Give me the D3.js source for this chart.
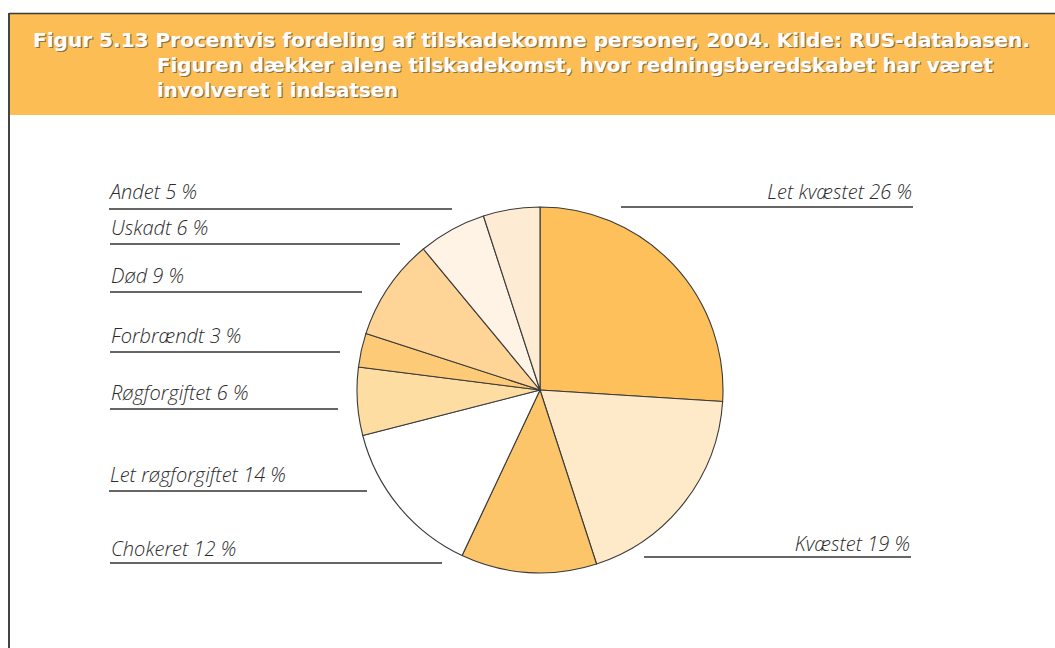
<!DOCTYPE html>
<html lang="da">
<head>
<meta charset="UTF-8">
<title>Figur 5.13</title>
<script src="https://d3js.org/d3.v7.min.js"></script>
<style>
  body { margin: 0; background: #fff; }
  svg { display: block; }
</style>
</head>
<body>
<div id="chart"></div>
<script>
// data (clockwise from 12 o'clock)
const categories = ["Let kvæstet", "Kvæstet", "Chokeret", "Let røgforgiftet",
                    "Røgforgiftet", "Forbrændt", "Død", "Uskadt", "Andet"];
const values = [26, 19, 12, 14, 6, 3, 9, 6, 5];
const sliceColors = ["#fdc05a", "#fee9c8", "#fdc56a", "#ffffff",
                     "#fedda3", "#fdcb78", "#fed597", "#fff3e6", "#feebd3"];

const titleLines = [
  "Figur 5.13 Procentvis fordeling af tilskadekomne personer, 2004. Kilde: RUS-databasen.",
  "Figuren dækker alene tilskadekomst, hvor redningsberedskabet har været",
  "involveret i indsatsen"
];

// label layout: text baseline, underline y, line x range, anchor side
const labelLayout = {
  "Andet":            {ty: 199, ly: 209, x0: 109, x1: 452, side: "left"},
  "Uskadt":           {ty: 235, ly: 244, x0: 110, x1: 400, side: "left"},
  "Død":              {ty: 283, ly: 292, x0: 110, x1: 362, side: "left"},
  "Forbrændt":        {ty: 343, ly: 352, x0: 110, x1: 340, side: "left"},
  "Røgforgiftet":     {ty: 400, ly: 409, x0: 110, x1: 338, side: "left"},
  "Let røgforgiftet": {ty: 482, ly: 491, x0: 109, x1: 367, side: "left"},
  "Chokeret":         {ty: 556, ly: 563, x0: 110, x1: 442, side: "left"},
  "Let kvæstet":      {ty: 199, ly: 207, x0: 621, x1: 913, side: "right"},
  "Kvæstet":          {ty: 551, ly: 557, x0: 644, x1: 911, side: "right"}
};

const width = 1055, height = 648;
const cx = 540, cy = 390, radius = 183;

const svg = d3.select("#chart").append("svg")
  .attr("width", width)
  .attr("height", height);

// frame + header band
svg.append("rect")
  .attr("x", 9).attr("y", 14)
  .attr("width", width).attr("height", 101)
  .attr("fill", "#fdbd55");
svg.append("line")
  .attr("x1", 9).attr("x2", width)
  .attr("y1", 13.5).attr("y2", 13.5)
  .attr("stroke", "#3a3a3a").attr("stroke-width", 1.5);
svg.append("line")
  .attr("x1", 9).attr("x2", 9)
  .attr("y1", 13).attr("y2", height)
  .attr("stroke", "#444").attr("stroke-width", 2);

// title (white with a soft shadow)
const title = svg.append("g")
  .style("font-family", "'DejaVu Sans Condensed', 'DejaVu Sans', sans-serif")
  .style("font-weight", "bold")
  .style("font-size", "20px");
const titlePos = [{x: 33, y: 47, len: 997}, {x: 157, y: 72, len: 836}, {x: 157, y: 97, len: 241}];
[["#8c7048", 1.2], ["#ffffff", 0]].forEach(([col, off]) => {
  titleLines.forEach((t, i) => {
    title.append("text")
      .attr("x", titlePos[i].x + off)
      .attr("y", titlePos[i].y + off)
      .attr("fill", col)
      .attr("textLength", titlePos[i].len)
      .attr("lengthAdjust", "spacingAndGlyphs")
      .text(t);
  });
});

// pie
const pie = d3.pie().sort(null).value(d => d.value);
const arc = d3.arc().innerRadius(0).outerRadius(radius);
const data = categories.map((c, i) => ({name: c, value: values[i], color: sliceColors[i]}));

svg.append("g")
  .attr("transform", `translate(${cx},${cy})`)
  .selectAll("path")
  .data(pie(data))
  .join("path")
  .attr("d", arc)
  .attr("fill", d => d.data.color)
  .attr("stroke", "#3a3a3a")
  .attr("stroke-width", 1.1)
  .attr("stroke-linejoin", "round");

// labels with underlines
const labels = svg.append("g")
  .style("font-family", "'Open Sans', Lato, sans-serif")
  .style("font-style", "italic")
  .style("font-weight", 300)
  .style("font-size", "20px");

data.forEach(d => {
  const L = labelLayout[d.name];
  labels.append("line")
    .attr("x1", L.x0).attr("x2", L.x1)
    .attr("y1", L.ly).attr("y2", L.ly)
    .attr("stroke", "#333").attr("stroke-width", 1.5);
  labels.append("text")
    .attr("x", L.side === "left" ? L.x0 + 1 : L.x1 - 1)
    .attr("y", L.ty)
    .attr("text-anchor", L.side === "left" ? "start" : "end")
    .attr("fill", "#2b2b2b")
    .text(`${d.name} ${d.value} %`);
});
</script>
</body>
</html>
